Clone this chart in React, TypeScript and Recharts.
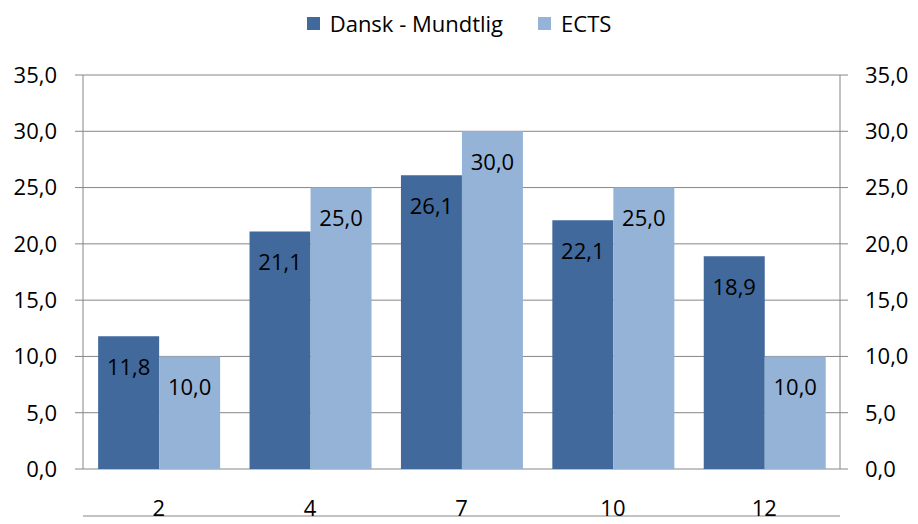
import React from "react";
import {
  BarChart,
  Bar,
  XAxis,
  YAxis,
  CartesianGrid,
  Legend,
  LabelList,
} from "recharts";

// Karakterfordeling: Dansk mundtlig vs. ECTS-fordeling (%)
const categories = ["2", "4", "7", "10", "12"];
const danskValues = [11.8, 21.1, 26.1, 22.1, 18.9];
const ectsValues = [10.0, 25.0, 30.0, 25.0, 10.0];
const yTicks = [0, 5, 10, 15, 20, 25, 30, 35];
// grænser mellem kategorierne (til de små streger under x-aksen)
const boundaryTicks = [0, 1, 2, 3, 4, 5];

const DARK = "#41699c";
const LIGHT = "#95b3d7";
const AXIS = "#868686";
const FONT = "'Open Sans', sans-serif";
const FS = 22;

const data = categories.map((c, i) => ({
  grade: c,
  dansk: danskValues[i],
  ects: ectsValues[i],
}));

const fmt = (v: number) => v.toFixed(1).replace(".", ",");

function LegendContent() {
  const items = [
    { name: "Dansk - Mundtlig", color: DARK },
    { name: "ECTS", color: LIGHT },
  ];
  return (
    <div style={{ display: "flex", justifyContent: "center", gap: 35, fontSize: FS, color: "#000", lineHeight: "28px" }}>
      {items.map((it) => (
        <div key={it.name} style={{ display: "flex", alignItems: "center" }}>
          <span style={{ display: "inline-block", width: 13, height: 13, background: it.color, marginRight: 10 }} />
          <span>{it.name}</span>
        </div>
      ))}
    </div>
  );
}

export default function App() {
  return (
    <div style={{ position: "absolute", left: 0, top: 0, fontFamily: FONT }}>
      <BarChart
        width={918}
        height={524}
        data={data}
        margin={{ top: 9, right: 0, left: 0, bottom: 0 }}
        barCategoryGap="10%"
        barGap={0}
      >
        <Legend verticalAlign="top" align="center" height={66} content={<LegendContent />} />
        <CartesianGrid horizontal vertical={false} stroke={AXIS} yAxisId="left" xAxisId="cat" />
        <XAxis
          xAxisId="ticks"
          type="number"
          dataKey="dummy"
          domain={[0, 5]}
          ticks={boundaryTicks}
          allowDataOverflow
          height={8}
          tick={false}
          tickSize={8}
          stroke={AXIS}
          tickLine={{ stroke: AXIS }}
        />
        <XAxis
          xAxisId="cat"
          dataKey="grade"
          height={47}
          axisLine={false}
          tickLine={false}
          tickSize={0}
          tickMargin={31}
          tick={{ fill: "#000", fontSize: FS }}
        />
        <YAxis
          yAxisId="left"
          orientation="left"
          domain={[0, 35]}
          ticks={yTicks}
          width={83}
          tickFormatter={fmt}
          tickSize={8}
          tickMargin={18}
          stroke={AXIS}
          tick={{ fill: "#000", fontSize: FS }}
        />
        <YAxis
          yAxisId="right"
          orientation="right"
          domain={[0, 35]}
          ticks={yTicks}
          width={78}
          tickFormatter={fmt}
          tickSize={8}
          tickMargin={17}
          stroke={AXIS}
          tick={{ fill: "#000", fontSize: FS }}
        />
        <Bar dataKey="dansk" name="Dansk - Mundtlig" fill={DARK} xAxisId="cat" yAxisId="left" isAnimationActive={false}>
          <LabelList dataKey="dansk" position="insideTop" offset={23} formatter={fmt} fill="#000" fontSize={FS} />
        </Bar>
        <Bar dataKey="ects" name="ECTS" fill={LIGHT} xAxisId="cat" yAxisId="right" isAnimationActive={false}>
          <LabelList dataKey="ects" position="insideTop" offset={23} formatter={fmt} fill="#000" fontSize={FS} />
        </Bar>
      </BarChart>
    </div>
  );
}
